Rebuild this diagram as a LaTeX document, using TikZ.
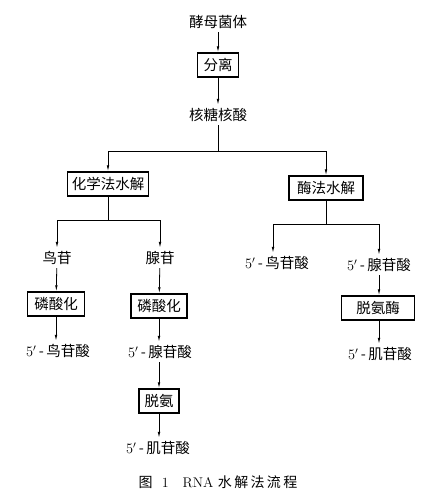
\documentclass[tikz,border=0pt]{standalone}
\usepackage{fontspec}
\usepackage{tikz}
\usetikzlibrary{arrows.meta}
\newfontfamily\cjk{Noto Sans CJK SC}

\tikzset{
  item/.style={font=\cjk\fontsize{14.5}{17}\selectfont, inner sep=3pt},
  procbox/.style={item, draw, line width=1.4pt, minimum height=24pt, inner xsep=4pt},
}

\begin{document}
\begin{tikzpicture}[x=1pt, y=-1pt, line width=0.8pt, >={Latex[length=6pt,width=2.6pt]}]

  \useasboundingbox (0,0) rectangle (438,500);

  % nodes
  \node [item] (yeast) at (218,22) {酵母菌体};
  \node [procbox, minimum width=41pt] (sep) at (218,65) {分离};
  \node [item] (rna) at (218,115) {核糖核酸};
  \node [procbox, minimum width=79pt] (chem) at (108,184) {化学法水解};
  \node [procbox, minimum width=74pt] (enz) at (326,188) {酶法水解};

  \node [item] (guo) at (57,258) {鸟苷};
  \node [item] (xian) at (160,258) {腺苷};
  \node [item] (gmpB) at (277,263) {$5'$\,-\,鸟苷酸};
  \node [item] (ampB) at (379,265) {$5'$\,-\,腺苷酸};

  \node [procbox, minimum width=57pt] (phosA) at (56,304) {磷酸化};
  \node [procbox, minimum width=56pt] (phosB) at (159,306) {磷酸化};
  \node [procbox, minimum width=73pt] (deamB) at (378,308) {脱氨酶};

  \node [item] (gmpA) at (58,351) {$5'$\,-\,鸟苷酸};
  \node [item] (ampA) at (160,352) {$5'$\,-\,腺苷酸};
  \node [item] (impB) at (380,354) {$5'$\,-\,肌苷酸};
  \node [procbox, minimum width=40pt] (deamA) at (159,401) {脱氨};
  \node [item] (impA) at (158,448) {$5'$\,-\,肌苷酸};

  \node [font=\fontsize{14}{16}\selectfont] (caption) at (218,482)
    {{\cjk 图}\ \ 1\quad RNA\ {\cjk 水\,解\,法\,流\,程}};

  % branch points
  \coordinate (rnasplit) at (218,151);
  \coordinate (chemsplit) at (108,220);
  \coordinate (enzsplit) at (326,224);

  % arrows
  \draw [->] (yeast) -- (sep);
  \draw [->] (sep) -- (rna);
  \draw (rna) -- (rnasplit);
  \draw [->] (rnasplit) -| (chem);
  \draw [->] (rnasplit) -| (enz);

  \draw (chem) -- (chemsplit);
  \draw [->] (chemsplit) -| (guo);
  \draw [->] (chemsplit) -| (xian);
  \draw (enz) -- (enzsplit);
  \draw [->] (enzsplit) -| (gmpB.north -| 273,0);
  \draw [->] (enzsplit) -| (ampB.north -| 379,0);

  \draw [->] (guo) -- (phosA);
  \draw [->] (phosA) -- (gmpA.north -| phosA);
  \draw [->] (xian) -- (phosB);
  \draw [->] (phosB) -- (ampA.north -| phosB);
  \draw [->] (ampA.south -| deamA) -- (deamA);
  \draw [->] (deamA) -- (impA.north -| deamA);
  \draw [->] (ampB) -- (deamB.north -| ampB);
  \draw [->] (deamB.south -| ampB) -- (impB.north -| ampB);

\end{tikzpicture}
\end{document}
